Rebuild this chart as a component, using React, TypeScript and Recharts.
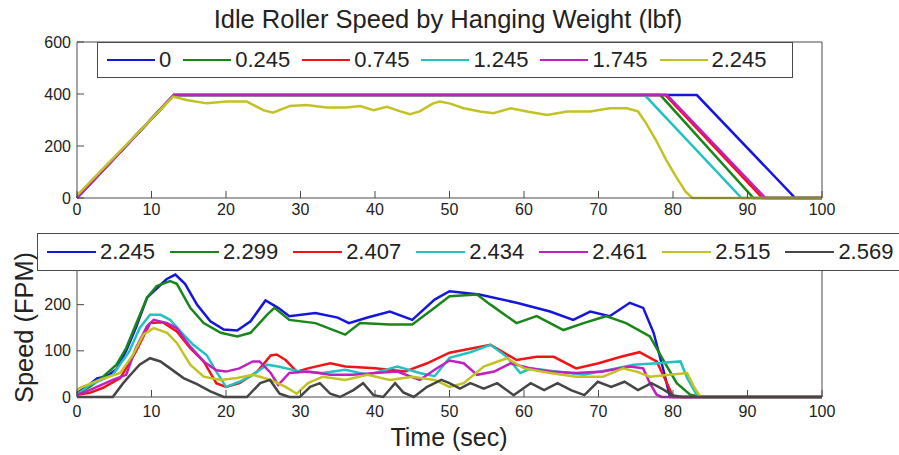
import React from 'react';
import { LineChart, Line, XAxis, YAxis } from 'recharts';

// ---------- data ----------
const xTicks = [0, 10, 20, 30, 40, 50, 60, 70, 80, 90, 100];
const topYTicks = [0, 200, 400, 600];
const botYTicks = [0, 100, 200];

const topNames = ['0', '0.245', '0.745', '1.245', '1.745', '2.245'];
const topColors = ['#1515e0', '#1a861a', '#f01414', '#22c2c2', '#c020c0', '#c2c222'];

const top0 = [[0, 0], [13, 396], [83.2, 396], [96.4, 0], [100, 0]];
const top0245 = [[0, 0], [13, 396], [78.3, 396], [90.8, 0], [100, 0]];
const top0745 = [[0, 0], [13, 396], [79, 396], [92, 0], [100, 0]];
const top1245 = [[0, 0], [13, 396], [76.2, 396], [89.2, 0], [100, 0]];
const top1745 = [[0, 0], [13, 396], [79.2, 396], [92.4, 0], [100, 0]];
const top2245 = [[0, 10], [12.9, 390], [14.7, 377], [17.4, 364], [20.1, 371], [22.8, 371], [25, 338], [26.3, 328], [28.6, 354], [30.8, 358], [33.5, 348], [36.2, 348], [38, 354], [39.8, 338], [41.6, 351], [43.4, 333], [44.7, 322], [46, 333], [47.8, 364], [48.7, 371], [50.1, 363], [51.9, 345], [54.1, 333], [55.9, 326], [58.2, 345], [60.4, 333], [63.1, 319], [65.8, 333], [68.9, 333], [71.5, 345], [73.8, 345], [75.3, 333], [76.4, 287], [77.7, 223], [79.1, 146], [80.4, 82], [81.7, 24], [82.6, 0], [100, 0]];

const botNames = ['2.245', '2.299', '2.407', '2.434', '2.461', '2.515', '2.569'];
const botColors = ['#1515e0', '#1a861a', '#f01414', '#22c2c2', '#c020c0', '#c2c222', '#454545'];

const bot2245 = [[0, 8], [1.5, 25], [2.7, 40], [4, 45], [5.3, 60], [6.6, 100], [7.9, 150], [9.4, 215], [10.7, 235], [12, 255], [13.2, 265], [14.5, 245], [16.1, 200], [17.9, 164], [19.7, 146], [21.5, 144], [23.3, 164], [25.3, 209], [27, 193], [28.5, 175], [32, 182], [35, 172], [36.5, 160], [39, 172], [42, 185], [45, 167], [48, 211], [50, 229], [54, 222], [59, 204], [63.5, 185], [66.6, 167], [68.9, 185], [71.5, 175], [74.2, 204], [76, 193], [77.4, 139], [78.7, 59], [79.6, 0], [100, 0]];
const bot2299 = [[0, 8], [1.7, 22], [3.5, 44], [5.3, 70], [6.6, 106], [7.9, 157], [9.4, 215], [10.7, 240], [12.5, 251], [13.4, 245], [15.2, 193], [17, 160], [19.3, 139], [21.5, 131], [23.3, 139], [25.5, 178], [26.5, 193], [28.5, 167], [32, 160], [36, 135], [38, 160], [42, 157], [45, 157], [48, 193], [50, 218], [53.7, 222], [55.5, 200], [59, 160], [61.7, 175], [65.3, 145], [68, 160], [71, 175], [73.7, 160], [76.9, 131], [78.7, 80], [80.5, 30], [82.3, 5], [84, 0], [100, 0]];
const bot2407 = [[0, 5], [1.7, 9], [3.5, 20], [5.8, 41], [7.9, 98], [9.8, 160], [11.5, 162], [13.4, 142], [15.2, 106], [17, 77], [18.7, 30], [20, 22], [21.8, 30], [24.2, 55], [26, 90], [26.8, 92], [28, 80], [29.5, 55], [31, 62], [34, 73], [36, 66], [40, 62], [44, 55], [47, 73], [50, 96], [55.5, 113], [59, 80], [61.7, 87], [64, 87], [67, 62], [70, 73], [73, 87], [75.5, 97], [77.8, 77], [79.2, 30], [80, 0], [100, 0]];
const bot2434 = [[0, 5], [1.7, 26], [4.8, 48], [7, 98], [8.4, 149], [9.8, 178], [11.2, 178], [12.5, 167], [13.9, 142], [15.6, 113], [17.4, 91], [18.7, 55], [20, 22], [21.8, 33], [23.6, 48], [25.5, 70], [27, 66], [30, 55], [33, 52], [36, 59], [39, 48], [43, 66], [46, 52], [48, 45], [50, 85], [52.8, 97], [55.5, 113], [57.7, 87], [59.5, 52], [61, 62], [64.3, 55], [68, 48], [71.5, 59], [74.7, 70], [77.8, 73], [81, 77], [81.9, 41], [83.2, 4], [84, 0], [100, 0]];
const bot2461 = [[0, 5], [1.7, 15], [4.8, 37], [6.6, 48], [7.9, 106], [9.4, 153], [10.3, 167], [12.1, 160], [13.4, 149], [15.2, 109], [17, 77], [18.7, 58], [20, 55], [21.8, 62], [23.6, 77], [24.5, 77], [26, 52], [27, 26], [28.5, 52], [31, 55], [34, 48], [37, 48], [40, 52], [43, 55], [46, 37], [48, 59], [50, 79], [51.9, 73], [53.7, 48], [56, 55], [58.2, 73], [60.9, 62], [63.5, 55], [67, 52], [70.6, 55], [74.2, 66], [76, 62], [76.9, 30], [77.8, 5], [78.5, 0], [100, 0]];
const bot2515 = [[0, 15], [0.4, 20], [3, 37], [5.8, 52], [7.5, 91], [8.9, 135], [10.3, 149], [12.1, 139], [13.4, 117], [15.2, 70], [17, 44], [19.3, 37], [21.5, 41], [23.6, 48], [26, 37], [28, 22], [29.5, 7], [31, 30], [33, 44], [36, 37], [39, 48], [42, 37], [45, 44], [48, 37], [50, 22], [51.9, 30], [54.6, 66], [57.7, 84], [60, 62], [63.5, 52], [67, 44], [70.6, 44], [73.3, 62], [75.1, 55], [76.9, 44], [79.6, 48], [81.9, 52], [82.8, 22], [83.7, 0], [100, 0]];
const bot2569 = [[0, 0], [4.8, 0], [6.2, 30], [7, 45], [8.4, 70], [9.8, 84], [11.2, 77], [12.5, 62], [14.3, 41], [16.1, 28], [17.9, 12], [19.7, 0], [22.8, 0], [24.6, 30], [25.9, 37], [27.2, 7], [28.5, 0], [29.9, 0], [31.3, 22], [32.6, 30], [34, 7], [35.3, 0], [37.1, 15], [38.4, 30], [39.8, 4], [41.1, 0], [42.7, 30], [43.8, 10], [45.2, 0], [47, 22], [48.9, 37], [50, 30], [51.4, 18], [52.8, 30], [54.6, 18], [56.4, 30], [58.6, 4], [60.9, 30], [62.7, 15], [64.5, 30], [66.3, 15], [68.1, 4], [69.9, 33], [71.7, 22], [73.5, 33], [75.3, 15], [77.1, 30], [78.5, 18], [79.9, 4], [81.2, 0], [100, 0]];

const topSeries = [top0, top0245, top0745, top1245, top1745, top2245];
const botSeries = [bot2245, bot2299, bot2407, bot2434, bot2461, bot2515, bot2569];

const toRows = (s: number[][]) => s.map(([t, v]) => ({ t, v }));

// ---------- styles ----------
const FONT = '"Liberation Sans", Arial, sans-serif';
const AXIS = '#4a4a4a';
const TEXT = '#222';
const W = 899;
const H = 455;
const PL = 77;
const PR = 822;
const blank = () => '';

function Panel(props: {
  series: number[][][];
  colors: string[];
  yDomain: [number, number];
  yTicks: number[];
  plotTop: number;
  plotBottom: number;
  xTickMargin: number;
}) {
  const { series, colors, yDomain, yTicks, plotTop, plotBottom, xTickMargin } = props;
  const tickStyle = { fontSize: 16, fill: TEXT, fontFamily: FONT };
  const margin = { top: plotTop - 1, bottom: H - plotBottom - 1, left: PL - 1, right: W - PR - 1 };
  return (
    <LineChart width={W} height={H} margin={margin}>
      <XAxis
        xAxisId="b"
        dataKey="t"
        type="number"
        domain={[0, 100]}
        ticks={xTicks}
        interval={0}
        height={1}
        stroke={AXIS}
        tickSize={-7}
        tickMargin={xTickMargin}
        tick={tickStyle}
      />
      <XAxis
        xAxisId="t"
        orientation="top"
        dataKey="t"
        type="number"
        domain={[0, 100]}
        ticks={xTicks}
        interval={0}
        height={1}
        stroke={AXIS}
        tickSize={-7}
        tickFormatter={blank}
      />
      <YAxis
        yAxisId="l"
        type="number"
        domain={yDomain}
        ticks={yTicks}
        interval={0}
        width={1}
        stroke={AXIS}
        tickSize={-7}
        tickMargin={13}
        tick={tickStyle}
      />
      <YAxis
        yAxisId="r"
        orientation="right"
        type="number"
        domain={yDomain}
        ticks={yTicks}
        interval={0}
        width={1}
        stroke={AXIS}
        tickSize={-7}
        tickFormatter={blank}
      />
      {series.map((s, i) => (
        <Line
          key={i}
          xAxisId="b"
          yAxisId="l"
          data={toRows(s)}
          dataKey="v"
          type="linear"
          stroke={colors[i]}
          strokeWidth={2.5}
          dot={false}
          activeDot={false}
          isAnimationActive={false}
        />
      ))}
    </LineChart>
  );
}

function LegendBox(props: {
  names: string[];
  colors: string[];
  left: number;
  top: number;
  width: number;
  height: number;
  gap: number;
  lineW: number;
}) {
  const { names, colors, left, top, width, height, gap, lineW } = props;
  return (
    <div
      style={{
        position: 'absolute',
        left,
        top,
        width,
        height,
        boxSizing: 'border-box',
        border: `1px solid ${AXIS}`,
        background: '#fff',
        display: 'flex',
        alignItems: 'center',
        paddingLeft: 9,
        fontFamily: FONT,
        fontSize: 22,
        color: TEXT,
        whiteSpace: 'nowrap',
      }}
    >
      {names.map((n, i) => (
        <div key={n} style={{ display: 'flex', alignItems: 'center', marginRight: gap }}>
          <div style={{ width: lineW, height: 2.5, background: colors[i] }} />
          <span style={{ marginLeft: 4, lineHeight: '22px' }}>{n}</span>
        </div>
      ))}
    </div>
  );
}

export default function App() {
  return (
    <div
      style={{
        position: 'fixed',
        left: 0,
        top: 0,
        width: W,
        height: H,
        overflow: 'hidden',
        background: '#fff',
      }}
    >
      <div style={{ position: 'absolute', left: 0, top: 0 }}>
        <Panel
          series={topSeries}
          colors={topColors}
          yDomain={[0, 600]}
          yTicks={topYTicks}
          plotTop={42}
          plotBottom={198}
          xTickMargin={13}
        />
      </div>
      <div style={{ position: 'absolute', left: 0, top: 0 }}>
        <Panel
          series={botSeries}
          colors={botColors}
          yDomain={[0, 275]}
          yTicks={botYTicks}
          plotTop={270}
          plotBottom={397}
          xTickMargin={16}
        />
      </div>
      <svg
        width={W}
        height={H}
        style={{ position: 'absolute', left: 0, top: 0, pointerEvents: 'none' }}
      >
        <text x={448} y={28} textAnchor="middle" fontFamily={FONT} fontSize={25.5} fill={TEXT}>
          Idle Roller Speed by Hanging Weight (lbf)
        </text>
        <text x={449} y={446} textAnchor="middle" fontFamily={FONT} fontSize={25} fill={TEXT}>
          Time (sec)
        </text>
        <text
          x={32.5}
          y={327.5}
          textAnchor="middle"
          fontFamily={FONT}
          fontSize={25.4}
          fill={TEXT}
          transform="rotate(-90 32.5 327.5)"
        >
          Speed (FPM)
        </text>
      </svg>
      <LegendBox
        names={topNames}
        colors={topColors}
        left={97}
        top={42}
        width={696}
        height={36}
        gap={12}
        lineW={48}
      />
      <LegendBox
        names={botNames}
        colors={botColors}
        left={37}
        top={233}
        width={880}
        height={38}
        gap={15}
        lineW={49}
      />
    </div>
  );
}
